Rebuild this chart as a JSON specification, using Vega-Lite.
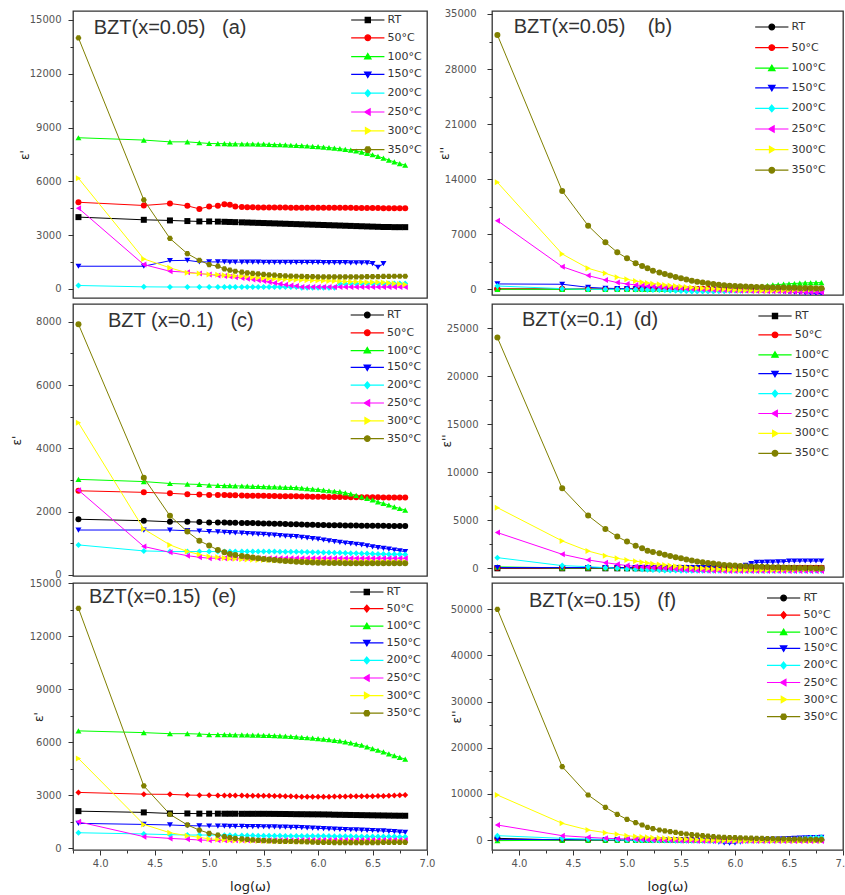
{
"$schema": "https://vega.github.io/schema/vega-lite/v6.json",
"background": "white",
"padding": {"left": 9, "top": 8, "right": 5, "bottom": 5},
"config": {
 "view": {"stroke": "#333333", "strokeWidth": 1.3},
 "axis": {"labelFont": "DejaVu Sans", "labelFontSize": 10, "labelColor": "#555555", "tickColor": "#333333", "grid": false, "domain": false, "labelOverlap": false, "labelFlush": false, "titleFont": "DejaVu Sans", "titleFontWeight": "normal", "titleFontSize": 12, "titleColor": "#222222"},
 "legend": {"orient": "none", "padding": 0, "labelFont": "DejaVu Sans", "labelFontSize": 11, "labelColor": "#333333", "symbolSize": 108, "symbolStrokeWidth": 1.2, "labelOffset": 13.8, "symbolOffset": 0},
 "title": {"font": "Liberation Sans", "fontSize": 20, "fontWeight": "normal", "color": "#333333", "anchor": "start", "baseline": "alphabetic", "offset": 0, "frame": "group"}
},
"datasets": {
"a": [
{"x":3.8,"RT":4000,"50":4830,"100":8430,"150":1260,"200":185,"250":4500,"300":6170,"350":14000},
{"x":4.4,"RT":3850,"50":4650,"100":8300,"150":1260,"200":110,"250":1350,"300":1670,"350":4960},
{"x":4.64,"RT":3815,"50":4760,"100":8200,"150":1570,"200":100,"250":980,"300":1170,"350":2810},
{"x":4.8,"RT":3780,"50":4630,"100":8200,"150":1590,"200":100,"250":925,"300":890,"350":1960},
{"x":4.91,"RT":3760,"50":4460,"100":8150,"150":1500,"200":100,"250":850,"300":850,"350":1590},
{"x":5.0,"RT":3760,"50":4590,"100":8110,"150":1500,"200":100,"250":800,"300":800,"350":1350},
{"x":5.08,"RT":3750,"50":4630,"100":8100,"150":1500,"200":100,"250":740,"300":780,"350":1260},
{"x":5.14,"RT":3740,"50":4720,"100":8100,"150":1500,"200":100,"250":720,"300":760,"350":1110},
{"x":5.19,"RT":3730,"50":4690,"100":8090,"150":1490,"200":100,"250":680,"300":740,"350":1040},
{"x":5.24,"RT":3720,"50":4590,"100":8090,"150":1490,"200":100,"250":650,"300":720,"350":980},
{"x":5.3,"RT":3710,"50":4560,"100":8080,"150":1490,"200":100,"250":600,"300":700,"350":925},
{"x":5.35,"RT":3700,"50":4550,"100":8080,"150":1490,"200":100,"250":560,"300":680,"350":890},
{"x":5.4,"RT":3690,"50":4550,"100":8080,"150":1490,"200":100,"250":520,"300":650,"350":860},
{"x":5.45,"RT":3680,"50":4540,"100":8070,"150":1490,"200":100,"250":480,"300":620,"350":830},
{"x":5.5,"RT":3670,"50":4540,"100":8070,"150":1480,"200":100,"250":430,"300":600,"350":800},
{"x":5.55,"RT":3660,"50":4540,"100":8060,"150":1480,"200":100,"250":380,"300":580,"350":780},
{"x":5.6,"RT":3650,"50":4540,"100":8050,"150":1480,"200":100,"250":320,"300":560,"350":760},
{"x":5.65,"RT":3640,"50":4540,"100":8040,"150":1480,"200":100,"250":270,"300":540,"350":740},
{"x":5.7,"RT":3630,"50":4540,"100":8030,"150":1480,"200":100,"250":220,"300":530,"350":720},
{"x":5.75,"RT":3620,"50":4530,"100":8010,"150":1480,"200":100,"250":180,"300":510,"350":710},
{"x":5.8,"RT":3610,"50":4530,"100":8000,"150":1470,"200":100,"250":150,"300":500,"350":700},
{"x":5.85,"RT":3600,"50":4530,"100":7990,"150":1470,"200":60,"250":100,"300":490,"350":690},
{"x":5.9,"RT":3590,"50":4530,"100":7970,"150":1470,"200":60,"250":100,"300":480,"350":680},
{"x":5.95,"RT":3580,"50":4530,"100":7950,"150":1470,"200":60,"250":100,"300":470,"350":675},
{"x":6.0,"RT":3570,"50":4530,"100":7930,"150":1470,"200":60,"250":100,"300":460,"350":670},
{"x":6.05,"RT":3560,"50":4520,"100":7910,"150":1460,"200":60,"250":100,"300":450,"350":670},
{"x":6.1,"RT":3550,"50":4520,"100":7880,"150":1460,"200":60,"250":100,"300":440,"350":670},
{"x":6.15,"RT":3540,"50":4520,"100":7850,"150":1460,"200":60,"250":100,"300":430,"350":670},
{"x":6.2,"RT":3530,"50":4520,"100":7820,"150":1460,"200":280,"250":100,"300":420,"350":670},
{"x":6.25,"RT":3520,"50":4520,"100":7780,"150":1460,"200":280,"250":100,"300":410,"350":670},
{"x":6.3,"RT":3510,"50":4520,"100":7740,"150":1450,"200":290,"250":100,"300":400,"350":670},
{"x":6.35,"RT":3500,"50":4510,"100":7690,"150":1450,"200":290,"250":100,"300":390,"350":670},
{"x":6.4,"RT":3490,"50":4510,"100":7630,"150":1450,"200":290,"250":100,"300":380,"350":670},
{"x":6.45,"RT":3480,"50":4510,"100":7560,"150":1450,"200":300,"250":100,"300":370,"350":675},
{"x":6.5,"RT":3470,"50":4510,"100":7480,"150":1400,"200":300,"250":100,"300":370,"350":680},
{"x":6.55,"RT":3460,"50":4510,"100":7390,"150":1200,"200":300,"250":100,"300":360,"350":680},
{"x":6.6,"RT":3450,"50":4500,"100":7290,"150":1400,"200":300,"250":100,"300":350,"350":690},
{"x":6.65,"RT":3450,"50":4500,"100":7180,"150":null,"200":300,"250":100,"300":330,"350":690},
{"x":6.7,"RT":3440,"50":4500,"100":7080,"150":null,"200":300,"250":100,"300":300,"350":700},
{"x":6.75,"RT":3440,"50":4500,"100":6990,"150":null,"200":300,"250":100,"300":270,"350":700},
{"x":6.8,"RT":3440,"50":4500,"100":6900,"150":null,"200":300,"250":100,"300":240,"350":700}
],
"b": [
{"x":3.8,"RT":30,"50":50,"100":0,"150":680,"200":420,"250":8730,"300":13600,"350":32330},
{"x":4.4,"RT":30,"50":50,"100":0,"150":640,"200":85,"250":2880,"300":4490,"350":12500},
{"x":4.64,"RT":30,"50":50,"100":0,"150":250,"200":0,"250":1740,"300":2670,"350":8090},
{"x":4.8,"RT":30,"50":50,"100":0,"150":130,"200":0,"250":1190,"300":2030,"350":5970},
{"x":4.91,"RT":30,"50":50,"100":0,"150":100,"200":0,"250":850,"300":1530,"350":4700},
{"x":5.0,"RT":30,"50":50,"100":0,"150":80,"200":0,"250":680,"300":1270,"350":3940},
{"x":5.08,"RT":30,"50":50,"100":0,"150":60,"200":-20,"250":560,"300":1050,"350":3300},
{"x":5.14,"RT":30,"50":50,"100":0,"150":50,"200":-40,"250":470,"300":900,"350":2970},
{"x":5.19,"RT":30,"50":50,"100":0,"150":40,"200":-60,"250":400,"300":800,"350":2670},
{"x":5.24,"RT":30,"50":50,"100":0,"150":30,"200":-80,"250":340,"300":720,"350":2370},
{"x":5.3,"RT":30,"50":50,"100":0,"150":20,"200":-100,"250":290,"300":640,"350":2120},
{"x":5.35,"RT":30,"50":50,"100":0,"150":10,"200":-130,"250":240,"300":560,"350":1930},
{"x":5.4,"RT":30,"50":50,"100":0,"150":0,"200":-160,"250":200,"300":490,"350":1740},
{"x":5.45,"RT":30,"50":50,"100":0,"150":-10,"200":-190,"250":160,"300":410,"350":1570},
{"x":5.5,"RT":30,"50":50,"100":0,"150":-20,"200":-220,"250":120,"300":340,"350":1400},
{"x":5.55,"RT":30,"50":50,"100":0,"150":-30,"200":-250,"250":80,"300":280,"350":1250},
{"x":5.6,"RT":30,"50":50,"100":0,"150":-40,"200":-270,"250":40,"300":220,"350":1100},
{"x":5.65,"RT":30,"50":50,"100":0,"150":-50,"200":-280,"250":0,"300":170,"350":970},
{"x":5.7,"RT":30,"50":50,"100":0,"150":-60,"200":-290,"250":-30,"300":130,"350":850},
{"x":5.75,"RT":30,"50":50,"100":0,"150":-70,"200":-290,"250":-60,"300":100,"350":760},
{"x":5.8,"RT":30,"50":50,"100":0,"150":-80,"200":-280,"250":-90,"300":80,"350":680},
{"x":5.85,"RT":30,"50":50,"100":0,"150":-90,"200":-260,"250":-110,"300":40,"350":590},
{"x":5.9,"RT":30,"50":50,"100":0,"150":-100,"200":-240,"250":-130,"300":0,"350":510},
{"x":5.95,"RT":30,"50":50,"100":0,"150":-110,"200":-220,"250":-150,"300":-40,"350":460},
{"x":6.0,"RT":30,"50":50,"100":0,"150":-120,"200":-200,"250":-170,"300":-80,"350":420},
{"x":6.05,"RT":30,"50":50,"100":50,"150":-130,"200":-180,"250":-190,"300":-110,"350":390},
{"x":6.1,"RT":30,"50":50,"100":100,"150":-140,"200":-160,"250":-200,"300":-130,"350":360},
{"x":6.15,"RT":30,"50":50,"100":180,"150":-150,"200":-140,"250":-210,"300":-150,"350":330},
{"x":6.2,"RT":30,"50":50,"100":300,"150":-160,"200":-120,"250":-220,"300":-160,"350":300},
{"x":6.25,"RT":30,"50":50,"100":400,"150":-180,"200":-100,"250":-230,"300":-170,"350":280},
{"x":6.3,"RT":30,"50":50,"100":480,"150":-200,"200":-80,"250":-240,"300":-170,"350":260},
{"x":6.35,"RT":30,"50":50,"100":550,"150":-220,"200":-60,"250":-250,"300":-160,"350":240},
{"x":6.4,"RT":30,"50":50,"100":600,"150":-250,"200":-40,"250":-260,"300":-150,"350":230},
{"x":6.45,"RT":30,"50":50,"100":650,"150":-280,"200":-20,"250":-280,"300":-130,"350":220},
{"x":6.5,"RT":30,"50":50,"100":700,"150":-320,"200":0,"250":-300,"300":-110,"350":210},
{"x":6.55,"RT":30,"50":50,"100":740,"150":-360,"200":0,"250":-320,"300":-90,"350":190},
{"x":6.6,"RT":30,"50":50,"100":780,"150":-400,"200":0,"250":-340,"300":-70,"350":170},
{"x":6.65,"RT":30,"50":50,"100":810,"150":-440,"200":0,"250":-360,"300":-50,"350":160},
{"x":6.7,"RT":30,"50":50,"100":830,"150":-480,"200":0,"250":-380,"300":-30,"350":150},
{"x":6.75,"RT":30,"50":50,"100":840,"150":-520,"200":0,"250":-400,"300":-10,"350":140},
{"x":6.8,"RT":30,"50":50,"100":850,"150":-560,"200":0,"250":-420,"300":0,"350":130}
],
"c": [
{"x":3.8,"RT":1760,"50":2660,"100":3020,"150":1420,"200":950,"250":2680,"300":4810,"350":7920},
{"x":4.4,"RT":1715,"50":2610,"100":2950,"150":1420,"200":760,"250":900,"300":1450,"350":3070},
{"x":4.64,"RT":1680,"50":2580,"100":2890,"150":1420,"200":740,"250":715,"300":950,"350":1870},
{"x":4.8,"RT":1680,"50":2550,"100":2870,"150":1400,"200":740,"250":610,"300":740,"350":1370},
{"x":4.91,"RT":1670,"50":2540,"100":2860,"150":1390,"200":740,"250":560,"300":650,"350":1080},
{"x":5.0,"RT":1660,"50":2530,"100":2840,"150":1370,"200":740,"250":530,"300":580,"350":930},
{"x":5.08,"RT":1660,"50":2530,"100":2830,"150":1360,"200":740,"250":530,"300":560,"350":790},
{"x":5.14,"RT":1655,"50":2525,"100":2825,"150":1350,"200":740,"250":530,"300":540,"350":715},
{"x":5.19,"RT":1650,"50":2520,"100":2820,"150":1340,"200":740,"250":530,"300":520,"350":660},
{"x":5.24,"RT":1650,"50":2515,"100":2815,"150":1330,"200":740,"250":530,"300":510,"350":630},
{"x":5.3,"RT":1645,"50":2510,"100":2810,"150":1320,"200":740,"250":530,"300":500,"350":600},
{"x":5.35,"RT":1640,"50":2505,"100":2805,"150":1310,"200":740,"250":530,"300":490,"350":575},
{"x":5.4,"RT":1640,"50":2505,"100":2800,"150":1300,"200":740,"250":530,"300":480,"350":550},
{"x":5.45,"RT":1635,"50":2500,"100":2795,"150":1290,"200":740,"250":530,"300":475,"350":525},
{"x":5.5,"RT":1630,"50":2500,"100":2790,"150":1280,"200":740,"250":530,"300":470,"350":505},
{"x":5.55,"RT":1625,"50":2495,"100":2785,"150":1270,"200":740,"250":530,"300":465,"350":490},
{"x":5.6,"RT":1620,"50":2495,"100":2780,"150":1260,"200":740,"250":530,"300":460,"350":475},
{"x":5.65,"RT":1615,"50":2490,"100":2775,"150":1245,"200":735,"250":530,"300":455,"350":460},
{"x":5.7,"RT":1610,"50":2490,"100":2770,"150":1230,"200":735,"250":530,"300":450,"350":445},
{"x":5.75,"RT":1605,"50":2485,"100":2765,"150":1220,"200":730,"250":530,"300":448,"350":430},
{"x":5.8,"RT":1600,"50":2485,"100":2760,"150":1210,"200":730,"250":530,"300":445,"350":420},
{"x":5.85,"RT":1595,"50":2480,"100":2745,"150":1190,"200":725,"250":530,"300":443,"350":410},
{"x":5.9,"RT":1590,"50":2480,"100":2730,"150":1170,"200":725,"250":530,"300":442,"350":400},
{"x":5.95,"RT":1585,"50":2475,"100":2715,"150":1150,"200":720,"250":530,"300":441,"350":395},
{"x":6.0,"RT":1580,"50":2470,"100":2700,"150":1130,"200":715,"250":530,"300":440,"350":390},
{"x":6.05,"RT":1575,"50":2470,"100":2680,"150":1105,"200":712,"250":530,"300":438,"350":385},
{"x":6.1,"RT":1572,"50":2465,"100":2660,"150":1080,"200":710,"250":530,"300":436,"350":380},
{"x":6.15,"RT":1570,"50":2465,"100":2645,"150":1055,"200":705,"250":530,"300":434,"350":378},
{"x":6.2,"RT":1568,"50":2460,"100":2630,"150":1030,"200":700,"250":530,"300":432,"350":375},
{"x":6.25,"RT":1565,"50":2460,"100":2595,"150":1010,"200":695,"250":530,"300":430,"350":373},
{"x":6.3,"RT":1562,"50":2458,"100":2560,"150":990,"200":690,"250":530,"300":428,"350":372},
{"x":6.35,"RT":1560,"50":2456,"100":2515,"150":970,"200":685,"250":530,"300":426,"350":371},
{"x":6.4,"RT":1558,"50":2455,"100":2470,"150":950,"200":680,"250":530,"300":425,"350":370},
{"x":6.45,"RT":1556,"50":2454,"100":2420,"150":920,"200":675,"250":530,"300":424,"350":370},
{"x":6.5,"RT":1555,"50":2453,"100":2370,"150":890,"200":670,"250":530,"300":423,"350":370},
{"x":6.55,"RT":1553,"50":2452,"100":2310,"150":865,"200":665,"250":530,"300":422,"350":370},
{"x":6.6,"RT":1552,"50":2451,"100":2260,"150":840,"200":660,"250":530,"300":421,"350":370},
{"x":6.65,"RT":1551,"50":2450,"100":2210,"150":815,"200":657,"250":530,"300":420,"350":370},
{"x":6.7,"RT":1550,"50":2450,"100":2150,"150":790,"200":655,"250":530,"300":420,"350":370},
{"x":6.75,"RT":1550,"50":2450,"100":2100,"150":765,"200":652,"250":530,"300":420,"350":370},
{"x":6.8,"RT":1550,"50":2450,"100":2050,"150":740,"200":650,"250":530,"300":420,"350":370}
],
"d": [
{"x":3.8,"RT":0,"50":50,"100":150,"150":80,"200":1110,"250":3720,"300":6320,"350":24030},
{"x":4.4,"RT":0,"50":50,"100":50,"150":80,"200":280,"250":1460,"300":2850,"350":8330},
{"x":4.64,"RT":0,"50":50,"100":50,"150":80,"200":170,"250":870,"300":1800,"350":5490},
{"x":4.8,"RT":0,"50":50,"100":50,"150":80,"200":70,"250":590,"300":1320,"350":4100},
{"x":4.91,"RT":0,"50":50,"100":50,"150":80,"200":0,"250":420,"300":1040,"350":3300},
{"x":5.0,"RT":0,"50":50,"100":50,"150":80,"200":-70,"250":280,"300":870,"350":2780},
{"x":5.08,"RT":0,"50":50,"100":50,"150":80,"200":-100,"250":200,"300":740,"350":2360},
{"x":5.14,"RT":0,"50":50,"100":50,"150":80,"200":-130,"250":140,"300":640,"350":2080},
{"x":5.19,"RT":0,"50":50,"100":50,"150":80,"200":-150,"250":100,"300":560,"350":1840},
{"x":5.24,"RT":0,"50":50,"100":50,"150":80,"200":-170,"250":60,"300":480,"350":1700},
{"x":5.3,"RT":0,"50":50,"100":50,"150":80,"200":-210,"250":20,"300":400,"350":1560},
{"x":5.35,"RT":0,"50":50,"100":50,"150":80,"200":-220,"250":-10,"300":340,"350":1420},
{"x":5.4,"RT":0,"50":50,"100":50,"150":80,"200":-230,"250":-40,"300":280,"350":1280},
{"x":5.45,"RT":0,"50":50,"100":50,"150":80,"200":-240,"250":-90,"300":220,"350":1160},
{"x":5.5,"RT":0,"50":50,"100":50,"150":80,"200":-250,"250":-140,"300":170,"350":1040},
{"x":5.55,"RT":0,"50":50,"100":50,"150":80,"200":-250,"250":-170,"300":120,"350":920},
{"x":5.6,"RT":0,"50":50,"100":50,"150":80,"200":-250,"250":-200,"300":70,"350":800},
{"x":5.65,"RT":0,"50":50,"100":50,"150":80,"200":-250,"250":-220,"300":30,"350":710},
{"x":5.7,"RT":0,"50":50,"100":50,"150":80,"200":-250,"250":-240,"300":0,"350":625},
{"x":5.75,"RT":0,"50":50,"100":50,"150":80,"200":-250,"250":-250,"300":-40,"350":560},
{"x":5.8,"RT":0,"50":50,"100":50,"150":80,"200":-250,"250":-260,"300":-70,"350":490},
{"x":5.85,"RT":0,"50":50,"100":50,"150":80,"200":-250,"250":-265,"300":-100,"350":420},
{"x":5.9,"RT":0,"50":50,"100":50,"150":80,"200":-250,"250":-270,"300":-130,"350":350},
{"x":5.95,"RT":0,"50":50,"100":50,"150":80,"200":-250,"250":-275,"300":-150,"350":310},
{"x":6.0,"RT":0,"50":50,"100":50,"150":80,"200":-250,"250":-280,"300":-170,"350":280},
{"x":6.05,"RT":0,"50":50,"100":50,"150":150,"200":-250,"250":-280,"300":-175,"350":250},
{"x":6.1,"RT":0,"50":50,"100":50,"150":300,"200":-250,"250":-280,"300":-175,"350":220},
{"x":6.15,"RT":0,"50":50,"100":50,"150":500,"200":-250,"250":-280,"300":-175,"350":195},
{"x":6.2,"RT":0,"50":50,"100":50,"150":620,"200":-250,"250":-280,"300":-175,"350":170},
{"x":6.25,"RT":0,"50":50,"100":50,"150":630,"200":-250,"250":-280,"300":-175,"350":150},
{"x":6.3,"RT":0,"50":50,"100":50,"150":640,"200":-250,"250":-280,"300":-175,"350":130},
{"x":6.35,"RT":0,"50":50,"100":50,"150":650,"200":-250,"250":-280,"300":-170,"350":115},
{"x":6.4,"RT":0,"50":50,"100":50,"150":660,"200":-250,"250":-280,"300":-165,"350":100},
{"x":6.45,"RT":0,"50":50,"100":50,"150":680,"200":-250,"250":-280,"300":-160,"350":85},
{"x":6.5,"RT":0,"50":50,"100":50,"150":750,"200":-250,"250":-280,"300":-150,"350":70},
{"x":6.55,"RT":0,"50":50,"100":50,"150":750,"200":-250,"250":-280,"300":-140,"350":55},
{"x":6.6,"RT":0,"50":50,"100":50,"150":760,"200":-250,"250":-280,"300":-130,"350":40},
{"x":6.65,"RT":0,"50":50,"100":50,"150":760,"200":-250,"250":-280,"300":-120,"350":30},
{"x":6.7,"RT":0,"50":50,"100":50,"150":760,"200":-250,"250":-280,"300":-110,"350":20},
{"x":6.75,"RT":0,"50":50,"100":50,"150":760,"200":-250,"250":-280,"300":-100,"350":10},
{"x":6.8,"RT":0,"50":50,"100":50,"150":760,"200":-250,"250":-280,"300":-90,"350":0}
],
"e": [
{"x":3.8,"RT":2100,"50":3160,"100":6640,"150":1410,"200":880,"250":1500,"300":5080,"350":13570},
{"x":4.4,"RT":2030,"50":3060,"100":6540,"150":1350,"200":810,"250":660,"300":1350,"350":3530},
{"x":4.64,"RT":1970,"50":3050,"100":6480,"150":1320,"200":770,"250":560,"300":880,"350":1920},
{"x":4.8,"RT":1970,"50":3010,"100":6480,"150":1280,"200":750,"250":510,"300":710,"350":1320},
{"x":4.91,"RT":1960,"50":3000,"100":6460,"150":1270,"200":750,"250":470,"300":620,"350":1030},
{"x":5.0,"RT":1960,"50":3000,"100":6430,"150":1260,"200":750,"250":450,"300":530,"350":850},
{"x":5.08,"RT":1960,"50":2990,"100":6430,"150":1255,"200":745,"250":450,"300":500,"350":750},
{"x":5.14,"RT":1955,"50":2990,"100":6425,"150":1250,"200":740,"250":450,"300":480,"350":660},
{"x":5.19,"RT":1955,"50":2985,"100":6420,"150":1245,"200":735,"250":450,"300":460,"350":600},
{"x":5.24,"RT":1955,"50":2980,"100":6415,"150":1240,"200":730,"250":450,"300":445,"350":560},
{"x":5.3,"RT":1950,"50":2980,"100":6410,"150":1235,"200":725,"250":455,"300":430,"350":530},
{"x":5.35,"RT":1950,"50":2975,"100":6405,"150":1230,"200":720,"250":455,"300":425,"350":500},
{"x":5.4,"RT":1950,"50":2975,"100":6400,"150":1228,"200":718,"250":455,"300":420,"350":475},
{"x":5.45,"RT":1950,"50":2970,"100":6395,"150":1225,"200":714,"250":460,"300":415,"350":450},
{"x":5.5,"RT":1950,"50":2970,"100":6390,"150":1220,"200":710,"250":460,"300":410,"350":430},
{"x":5.55,"RT":1948,"50":2965,"100":6380,"150":1215,"200":708,"250":460,"300":405,"350":415},
{"x":5.6,"RT":1945,"50":2960,"100":6370,"150":1210,"200":706,"250":460,"300":400,"350":405},
{"x":5.65,"RT":1942,"50":2955,"100":6355,"150":1200,"200":704,"250":460,"300":395,"350":395},
{"x":5.7,"RT":1940,"50":2950,"100":6340,"150":1195,"200":702,"250":460,"300":390,"350":390},
{"x":5.75,"RT":1935,"50":2940,"100":6320,"150":1188,"200":701,"250":460,"300":385,"350":385},
{"x":5.8,"RT":1930,"50":2930,"100":6300,"150":1180,"200":700,"250":460,"300":382,"350":380},
{"x":5.85,"RT":1928,"50":2920,"100":6275,"150":1168,"200":700,"250":465,"300":381,"350":370},
{"x":5.9,"RT":1925,"50":2915,"100":6250,"150":1155,"200":700,"250":465,"300":380,"350":360},
{"x":5.95,"RT":1922,"50":2910,"100":6225,"150":1143,"200":700,"250":465,"300":380,"350":350},
{"x":6.0,"RT":1920,"50":2910,"100":6200,"150":1130,"200":700,"250":465,"300":380,"350":340},
{"x":6.05,"RT":1915,"50":2915,"100":6170,"150":1115,"200":695,"250":465,"300":380,"350":335},
{"x":6.1,"RT":1910,"50":2920,"100":6140,"150":1100,"200":690,"250":465,"300":380,"350":330},
{"x":6.15,"RT":1900,"50":2925,"100":6105,"150":1085,"200":685,"250":465,"300":380,"350":325},
{"x":6.2,"RT":1895,"50":2930,"100":6070,"150":1070,"200":680,"250":465,"300":380,"350":322},
{"x":6.25,"RT":1890,"50":2935,"100":6015,"150":1060,"200":678,"250":470,"300":380,"350":320},
{"x":6.3,"RT":1885,"50":2940,"100":5960,"150":1050,"200":676,"250":470,"300":380,"350":320},
{"x":6.35,"RT":1880,"50":2945,"100":5895,"150":1040,"200":674,"250":470,"300":380,"350":320},
{"x":6.4,"RT":1875,"50":2950,"100":5830,"150":1030,"200":672,"250":470,"300":380,"350":320},
{"x":6.45,"RT":1870,"50":2950,"100":5740,"150":1017,"200":670,"250":470,"300":380,"350":320},
{"x":6.5,"RT":1865,"50":2950,"100":5640,"150":1005,"200":668,"250":470,"300":380,"350":320},
{"x":6.55,"RT":1860,"50":2955,"100":5545,"150":993,"200":666,"250":470,"300":380,"350":325},
{"x":6.6,"RT":1855,"50":2960,"100":5450,"150":980,"200":664,"250":470,"300":380,"350":330},
{"x":6.65,"RT":1850,"50":2970,"100":5340,"150":960,"200":662,"250":470,"300":380,"350":335},
{"x":6.7,"RT":1845,"50":2980,"100":5240,"150":940,"200":661,"250":470,"300":380,"350":340},
{"x":6.75,"RT":1842,"50":2995,"100":5140,"150":920,"200":660,"250":470,"300":380,"350":340},
{"x":6.8,"RT":1840,"50":3010,"100":5040,"150":900,"200":660,"250":470,"300":380,"350":340}
],
"f": [
{"x":3.8,"RT":360,"50":0,"100":-140,"150":140,"200":940,"250":3250,"300":9750,"350":50000},
{"x":4.4,"RT":0,"50":0,"100":-50,"150":70,"200":360,"250":940,"300":3610,"350":15900},
{"x":4.64,"RT":0,"50":0,"100":-50,"150":50,"200":220,"250":580,"300":2170,"350":9750},
{"x":4.8,"RT":0,"50":0,"100":-50,"150":40,"200":140,"250":360,"300":1590,"350":7080},
{"x":4.91,"RT":0,"50":0,"100":-50,"150":30,"200":70,"250":290,"300":1230,"350":5560},
{"x":5.0,"RT":0,"50":0,"100":-50,"150":20,"200":0,"250":220,"300":940,"350":4480},
{"x":5.08,"RT":0,"50":0,"100":-50,"150":10,"200":-30,"250":150,"300":750,"350":3760},
{"x":5.14,"RT":0,"50":0,"100":-50,"150":0,"200":-60,"250":90,"300":650,"350":3250},
{"x":5.19,"RT":0,"50":0,"100":-50,"150":-10,"200":-80,"250":40,"300":580,"350":2750},
{"x":5.24,"RT":0,"50":0,"100":-50,"150":-20,"200":-100,"250":10,"300":500,"350":2450},
{"x":5.3,"RT":0,"50":0,"100":-50,"150":-30,"200":-110,"250":-20,"300":430,"350":2170},
{"x":5.35,"RT":0,"50":0,"100":-50,"150":-40,"200":-120,"250":-50,"300":370,"350":1990},
{"x":5.4,"RT":0,"50":0,"100":-50,"150":-50,"200":-130,"250":-80,"300":320,"350":1810},
{"x":5.45,"RT":0,"50":0,"100":-50,"150":-60,"200":-140,"250":-110,"300":270,"350":1630},
{"x":5.5,"RT":0,"50":0,"100":-50,"150":-70,"200":-140,"250":-140,"300":220,"350":1450},
{"x":5.55,"RT":0,"50":0,"100":-50,"150":-80,"200":-140,"250":-160,"300":170,"350":1300},
{"x":5.6,"RT":0,"50":0,"100":-50,"150":-100,"200":-140,"250":-180,"300":120,"350":1160},
{"x":5.65,"RT":0,"50":0,"100":-50,"150":-120,"200":-140,"250":-190,"300":70,"350":1050},
{"x":5.7,"RT":0,"50":0,"100":-50,"150":-150,"200":-140,"250":-200,"300":30,"350":940},
{"x":5.75,"RT":0,"50":0,"100":-50,"150":-200,"200":-140,"250":-205,"300":0,"350":830},
{"x":5.8,"RT":0,"50":0,"100":-50,"150":-300,"200":-140,"250":-210,"300":-70,"350":720},
{"x":5.85,"RT":0,"50":0,"100":-50,"150":-450,"200":-140,"250":-215,"300":-100,"350":650},
{"x":5.9,"RT":0,"50":0,"100":-50,"150":-650,"200":-140,"250":-220,"300":-120,"350":580},
{"x":5.95,"RT":0,"50":0,"100":-50,"150":-700,"200":-140,"250":-220,"300":-130,"350":545},
{"x":6.0,"RT":0,"50":0,"100":-50,"150":-650,"200":-140,"250":-220,"300":-140,"350":510},
{"x":6.05,"RT":0,"50":0,"100":-50,"150":-450,"200":-140,"250":-220,"300":-140,"350":470},
{"x":6.1,"RT":0,"50":0,"100":-50,"150":-250,"200":-140,"250":-220,"300":-140,"350":435},
{"x":6.15,"RT":0,"50":0,"100":-50,"150":-100,"200":-140,"250":-220,"300":-140,"350":400},
{"x":6.2,"RT":0,"50":0,"100":-50,"150":0,"200":-140,"250":-220,"300":-140,"350":360},
{"x":6.25,"RT":0,"50":0,"100":-50,"150":50,"200":-130,"250":-220,"300":-140,"350":335},
{"x":6.3,"RT":0,"50":0,"100":-50,"150":100,"200":-120,"250":-220,"300":-140,"350":310},
{"x":6.35,"RT":0,"50":0,"100":-50,"150":150,"200":-100,"250":-220,"300":-140,"350":285},
{"x":6.4,"RT":0,"50":0,"100":-50,"150":200,"200":-80,"250":-220,"300":-140,"350":265},
{"x":6.45,"RT":0,"50":0,"100":-50,"150":250,"200":-40,"250":-220,"300":-140,"350":240},
{"x":6.5,"RT":0,"50":0,"100":-50,"150":300,"200":0,"250":-220,"300":-140,"350":220},
{"x":6.55,"RT":0,"50":0,"100":-50,"150":350,"200":100,"250":-220,"300":-140,"350":200},
{"x":6.6,"RT":0,"50":0,"100":-50,"150":400,"200":250,"250":-220,"300":-140,"350":185},
{"x":6.65,"RT":0,"50":0,"100":-50,"150":450,"200":400,"250":-220,"300":-140,"350":170},
{"x":6.7,"RT":0,"50":0,"100":-50,"150":500,"200":500,"250":-220,"300":-140,"350":160},
{"x":6.75,"RT":0,"50":0,"100":-50,"150":540,"200":540,"250":-220,"300":-140,"350":150},
{"x":6.8,"RT":0,"50":0,"100":-50,"150":580,"200":580,"250":-220,"300":-140,"350":140}
]
},
"columns": 2,
"spacing": {"row": 6, "column": 65},
"bounds": "flush",
"resolve": {"scale": {"fill": "independent", "stroke": "independent", "shape": "independent", "color": "independent"}},
"concat": [
{
 "width": 354, "height": 287,
 "data": {"name": "a"},
 "transform": [{"fold": ["RT","50","100","150","200","250","300","350"], "as": ["s","y"]}],
 "title": {"text": "BZT(x=0.05)\u00a0\u00a0\u00a0(a)", "dx": 20.7, "dy": 31},
 "encoding": {"x": {"field": "x", "type": "quantitative", "scale": {"domain": [3.75, 7.0], "nice": false, "zero": false}, "axis": null}},
 "layer": [
  {"mark": {"type": "line", "strokeWidth": 1, "clip": true},
   "encoding": {"y": {"field": "y", "type": "quantitative", "scale": {"domain": [-513, 15502], "nice": false, "zero": false},
    "axis": {"orient": "left", "title": "ε'", "titleX": -49, "titleBaseline": "middle", "values": [0,3000,6000,9000,12000,15000], "format": "d", "tickSize": 5, "labelPadding": 7}},
    "stroke": {"field": "s", "type": "nominal", "scale": {"domain": ["RT","50","100","150","200","250","300","350"], "range": ["#000000","#ff0000","#00ff00","#0000ff","#00ffff","#ff00ff","#ffff00","#808000"]}, "legend": null}}},
  {"mark": {"type": "point", "filled": true, "size": 36, "opacity": 1, "clip": true},
   "encoding": {"y": {"field": "y", "type": "quantitative", "scale": {"domain": [-513, 15502], "nice": false, "zero": false},
    "axis": {"orient": "left", "title": null, "values": [1500,4500,7500,10500,13500], "labels": false, "tickSize": 3}},
    "fill": {"field": "s", "type": "nominal", "scale": {"domain": ["RT","50","100","150","200","250","300","350"], "range": ["#000000","#ff0000","#00ff00","#0000ff","#00ffff","#ff00ff","#ffff00","#808000"]}, "legend": null},
    "shape": {"field": "s", "type": "nominal", "scale": {"domain": ["RT","50","100","150","200","250","300","350"], "range": ["square","circle","triangle-up","triangle-down","diamond","triangle-left","triangle-right","M-1,0L-0.5,-0.87H0.5L1,0L0.5,0.87H-0.5Z"]}, "legend": null}}},
  {"transform": [{"filter": "false"}],
   "mark": {"type": "point", "filled": true, "opacity": 1},
   "encoding": {"y": {"field": "y", "type": "quantitative", "scale": {"domain": [-513, 15502], "nice": false, "zero": false}, "axis": null},
    "fill": {"field": "s", "type": "nominal", "scale": {"domain": ["RT","50","100","150","200","250","300","350"], "range": ["#000000","#ff0000","#00ff00","#0000ff","#00ffff","#ff00ff","#ffff00","#808000"]}, "legend": {"title": null, "legendX": 288.8, "legendY": 3, "rowPadding": 6.8, "labelExpr": "datum.label=='RT'?'RT':datum.label+'°C'"}},
    "stroke": {"field": "s", "type": "nominal", "scale": {"domain": ["RT","50","100","150","200","250","300","350"], "range": ["#000000","#ff0000","#00ff00","#0000ff","#00ffff","#ff00ff","#ffff00","#808000"]}, "legend": {"title": null, "legendX": 288.8, "legendY": 3, "rowPadding": 6.8, "labelExpr": "datum.label=='RT'?'RT':datum.label+'°C'"}},
    "shape": {"field": "s", "type": "nominal", "scale": {"domain": ["RT","50","100","150","200","250","300","350"], "range": ["M-3.2,0H3.2M-0.5,-0.5H0.5V0.5H-0.5Z","M-3.2,0H3.2M-0.55,0A0.55,0.55,0,1,1,0.55,0A0.55,0.55,0,1,1,-0.55,0Z","M-3.2,0H3.2M0,-0.6L0.62,0.45H-0.62Z","M-3.2,0H3.2M0,0.6L0.62,-0.45H-0.62Z","M-3.2,0H3.2M0,-0.65L0.55,0L0,0.65L-0.55,0Z","M-3.2,0H3.2M-0.6,0L0.45,-0.62V0.62Z","M-3.2,0H3.2M0.6,0L-0.45,-0.62V0.62Z","M-3.2,0H3.2M-0.6,0L-0.3,-0.52H0.3L0.6,0L0.3,0.52H-0.3Z"]}, "legend": {"title": null, "legendX": 288.8, "legendY": 3, "rowPadding": 6.8, "labelExpr": "datum.label=='RT'?'RT':datum.label+'°C'"}}}}
 ],
 "resolve": {"scale": {"fill": "independent", "stroke": "independent", "shape": "independent"}, "axis": {"y": "independent"}}
},
{
 "width": 351, "height": 284,
 "data": {"name": "b"},
 "transform": [{"fold": ["RT","50","100","150","200","250","300","350"], "as": ["s","y"]}],
 "title": {"text": "BZT(x=0.05)\u00a0\u00a0\u00a0\u00a0(b)", "dx": 21.7, "dy": 32.3},
 "encoding": {"x": {"field": "x", "type": "quantitative", "scale": {"domain": [3.75, 7.0], "nice": false, "zero": false}, "axis": null}},
 "layer": [
  {"mark": {"type": "line", "strokeWidth": 1, "clip": true},
   "encoding": {"y": {"field": "y", "type": "quantitative", "scale": {"domain": [-725, 35381], "nice": false, "zero": false},
    "axis": {"orient": "left", "title": "ε''", "titleX": -48, "titleBaseline": "middle", "values": [0,7000,14000,21000,28000,35000], "format": "d", "tickSize": 5, "labelPadding": 11}},
    "stroke": {"field": "s", "type": "nominal", "scale": {"domain": ["RT","50","100","150","200","250","300","350"], "range": ["#000000","#ff0000","#00ff00","#0000ff","#00ffff","#ff00ff","#ffff00","#808000"]}, "legend": null}}},
  {"mark": {"type": "point", "filled": true, "size": 36, "opacity": 1, "clip": true},
   "encoding": {"y": {"field": "y", "type": "quantitative", "scale": {"domain": [-725, 35381], "nice": false, "zero": false},
    "axis": {"orient": "left", "title": null, "values": [3500,10500,17500,24500,31500], "labels": false, "tickSize": 3}},
    "fill": {"field": "s", "type": "nominal", "scale": {"domain": ["RT","50","100","150","200","250","300","350"], "range": ["#000000","#ff0000","#00ff00","#0000ff","#00ffff","#ff00ff","#ffff00","#808000"]}, "legend": null},
    "shape": {"field": "s", "type": "nominal", "scale": {"domain": ["RT","50","100","150","200","250","300","350"], "range": ["circle","circle","triangle-up","triangle-down","diamond","triangle-left","triangle-right","circle"]}, "legend": null}}},
  {"transform": [{"filter": "false"}],
   "mark": {"type": "point", "filled": true, "opacity": 1},
   "encoding": {"y": {"field": "y", "type": "quantitative", "scale": {"domain": [-725, 35381], "nice": false, "zero": false}, "axis": null},
    "fill": {"field": "s", "type": "nominal", "scale": {"domain": ["RT","50","100","150","200","250","300","350"], "range": ["#000000","#ff0000","#00ff00","#0000ff","#00ffff","#ff00ff","#ffff00","#808000"]}, "legend": {"title": null, "legendX": 273.8, "legendY": 10, "rowPadding": 8.6, "labelExpr": "datum.label=='RT'?'RT':datum.label+'°C'"}},
    "stroke": {"field": "s", "type": "nominal", "scale": {"domain": ["RT","50","100","150","200","250","300","350"], "range": ["#000000","#ff0000","#00ff00","#0000ff","#00ffff","#ff00ff","#ffff00","#808000"]}, "legend": {"title": null, "legendX": 273.8, "legendY": 10, "rowPadding": 8.6, "labelExpr": "datum.label=='RT'?'RT':datum.label+'°C'"}},
    "shape": {"field": "s", "type": "nominal", "scale": {"domain": ["RT","50","100","150","200","250","300","350"], "range": ["M-3.2,0H3.2M-0.55,0A0.55,0.55,0,1,1,0.55,0A0.55,0.55,0,1,1,-0.55,0Z","M-3.2,0H3.2M-0.55,0A0.55,0.55,0,1,1,0.55,0A0.55,0.55,0,1,1,-0.55,0Z","M-3.2,0H3.2M0,-0.6L0.62,0.45H-0.62Z","M-3.2,0H3.2M0,0.6L0.62,-0.45H-0.62Z","M-3.2,0H3.2M0,-0.65L0.55,0L0,0.65L-0.55,0Z","M-3.2,0H3.2M-0.6,0L0.45,-0.62V0.62Z","M-3.2,0H3.2M0.6,0L-0.45,-0.62V0.62Z","M-3.2,0H3.2M-0.55,0A0.55,0.55,0,1,1,0.55,0A0.55,0.55,0,1,1,-0.55,0Z"]}, "legend": {"title": null, "legendX": 273.8, "legendY": 10, "rowPadding": 8.6, "labelExpr": "datum.label=='RT'?'RT':datum.label+'°C'"}}}}
 ],
 "resolve": {"scale": {"fill": "independent", "stroke": "independent", "shape": "independent"}, "axis": {"y": "independent"}}
},
{
 "width": 354, "height": 272,
 "data": {"name": "c"},
 "transform": [{"fold": ["RT","50","100","150","200","250","300","350"], "as": ["s","y"]}],
 "title": {"text": "BZT (x=0.1)\u00a0\u00a0\u00a0(c)", "dx": 35, "dy": 31.3},
 "encoding": {"x": {"field": "x", "type": "quantitative", "scale": {"domain": [3.75, 7.0], "nice": false, "zero": false}, "axis": null}},
 "layer": [
  {"mark": {"type": "line", "strokeWidth": 1, "clip": true},
   "encoding": {"y": {"field": "y", "type": "quantitative", "scale": {"domain": [-32, 8559], "nice": false, "zero": false},
    "axis": {"orient": "left", "title": "ε'", "titleX": -57, "titleBaseline": "middle", "values": [0,2000,4000,6000,8000], "format": "d", "tickSize": 5, "labelPadding": 7}},
    "stroke": {"field": "s", "type": "nominal", "scale": {"domain": ["RT","50","100","150","200","250","300","350"], "range": ["#000000","#ff0000","#00ff00","#0000ff","#00ffff","#ff00ff","#ffff00","#808000"]}, "legend": null}}},
  {"mark": {"type": "point", "filled": true, "size": 36, "opacity": 1, "clip": true},
   "encoding": {"y": {"field": "y", "type": "quantitative", "scale": {"domain": [-32, 8559], "nice": false, "zero": false},
    "axis": {"orient": "left", "title": null, "values": [1000,3000,5000,7000], "labels": false, "tickSize": 3}},
    "fill": {"field": "s", "type": "nominal", "scale": {"domain": ["RT","50","100","150","200","250","300","350"], "range": ["#000000","#ff0000","#00ff00","#0000ff","#00ffff","#ff00ff","#ffff00","#808000"]}, "legend": null},
    "shape": {"field": "s", "type": "nominal", "scale": {"domain": ["RT","50","100","150","200","250","300","350"], "range": ["circle","circle","triangle-up","triangle-down","diamond","triangle-left","triangle-right","circle"]}, "legend": null}}},
  {"transform": [{"filter": "false"}],
   "mark": {"type": "point", "filled": true, "opacity": 1},
   "encoding": {"y": {"field": "y", "type": "quantitative", "scale": {"domain": [-32, 8559], "nice": false, "zero": false}, "axis": null},
    "fill": {"field": "s", "type": "nominal", "scale": {"domain": ["RT","50","100","150","200","250","300","350"], "range": ["#000000","#ff0000","#00ff00","#0000ff","#00ffff","#ff00ff","#ffff00","#808000"]}, "legend": {"title": null, "legendX": 288.3, "legendY": 5, "rowPadding": 5.8, "labelExpr": "datum.label=='RT'?'RT':datum.label+'°C'"}},
    "stroke": {"field": "s", "type": "nominal", "scale": {"domain": ["RT","50","100","150","200","250","300","350"], "range": ["#000000","#ff0000","#00ff00","#0000ff","#00ffff","#ff00ff","#ffff00","#808000"]}, "legend": {"title": null, "legendX": 288.3, "legendY": 5, "rowPadding": 5.8, "labelExpr": "datum.label=='RT'?'RT':datum.label+'°C'"}},
    "shape": {"field": "s", "type": "nominal", "scale": {"domain": ["RT","50","100","150","200","250","300","350"], "range": ["M-3.2,0H3.2M-0.55,0A0.55,0.55,0,1,1,0.55,0A0.55,0.55,0,1,1,-0.55,0Z","M-3.2,0H3.2M-0.55,0A0.55,0.55,0,1,1,0.55,0A0.55,0.55,0,1,1,-0.55,0Z","M-3.2,0H3.2M0,-0.6L0.62,0.45H-0.62Z","M-3.2,0H3.2M0,0.6L0.62,-0.45H-0.62Z","M-3.2,0H3.2M0,-0.65L0.55,0L0,0.65L-0.55,0Z","M-3.2,0H3.2M-0.6,0L0.45,-0.62V0.62Z","M-3.2,0H3.2M0.6,0L-0.45,-0.62V0.62Z","M-3.2,0H3.2M-0.55,0A0.55,0.55,0,1,1,0.55,0A0.55,0.55,0,1,1,-0.55,0Z"]}, "legend": {"title": null, "legendX": 288.3, "legendY": 5, "rowPadding": 5.8, "labelExpr": "datum.label=='RT'?'RT':datum.label+'°C'"}}}}
 ],
 "resolve": {"scale": {"fill": "independent", "stroke": "independent", "shape": "independent"}, "axis": {"y": "independent"}}
},
{
 "width": 351, "height": 273,
 "data": {"name": "d"},
 "transform": [{"fold": ["RT","50","100","150","200","250","300","350"], "as": ["s","y"]}],
 "title": {"text": "BZT(x=0.1)\u00a0\u00a0(d)", "dx": 30, "dy": 29.7},
 "encoding": {"x": {"field": "x", "type": "quantitative", "scale": {"domain": [3.75, 7.0], "nice": false, "zero": false}, "axis": null}},
 "layer": [
  {"mark": {"type": "line", "strokeWidth": 1, "clip": true},
   "encoding": {"y": {"field": "y", "type": "quantitative", "scale": {"domain": [-906, 27531], "nice": false, "zero": false},
    "axis": {"orient": "left", "title": "ε''", "titleX": -46, "titleBaseline": "middle", "values": [0,5000,10000,15000,20000,25000], "format": "d", "tickSize": 5, "labelPadding": 9}},
    "stroke": {"field": "s", "type": "nominal", "scale": {"domain": ["RT","50","100","150","200","250","300","350"], "range": ["#000000","#ff0000","#00ff00","#0000ff","#00ffff","#ff00ff","#ffff00","#808000"]}, "legend": null}}},
  {"mark": {"type": "point", "filled": true, "size": 36, "opacity": 1, "clip": true},
   "encoding": {"y": {"field": "y", "type": "quantitative", "scale": {"domain": [-906, 27531], "nice": false, "zero": false},
    "axis": {"orient": "left", "title": null, "values": [2500,7500,12500,17500,22500], "labels": false, "tickSize": 3}},
    "fill": {"field": "s", "type": "nominal", "scale": {"domain": ["RT","50","100","150","200","250","300","350"], "range": ["#000000","#ff0000","#00ff00","#0000ff","#00ffff","#ff00ff","#ffff00","#808000"]}, "legend": null},
    "shape": {"field": "s", "type": "nominal", "scale": {"domain": ["RT","50","100","150","200","250","300","350"], "range": ["square","circle","triangle-up","triangle-down","diamond","triangle-left","triangle-right","circle"]}, "legend": null}}},
  {"transform": [{"filter": "false"}],
   "mark": {"type": "point", "filled": true, "opacity": 1},
   "encoding": {"y": {"field": "y", "type": "quantitative", "scale": {"domain": [-906, 27531], "nice": false, "zero": false}, "axis": null},
    "fill": {"field": "s", "type": "nominal", "scale": {"domain": ["RT","50","100","150","200","250","300","350"], "range": ["#000000","#ff0000","#00ff00","#0000ff","#00ffff","#ff00ff","#ffff00","#808000"]}, "legend": {"title": null, "legendX": 277, "legendY": 6, "rowPadding": 7.9, "labelExpr": "datum.label=='RT'?'RT':datum.label+'°C'"}},
    "stroke": {"field": "s", "type": "nominal", "scale": {"domain": ["RT","50","100","150","200","250","300","350"], "range": ["#000000","#ff0000","#00ff00","#0000ff","#00ffff","#ff00ff","#ffff00","#808000"]}, "legend": {"title": null, "legendX": 277, "legendY": 6, "rowPadding": 7.9, "labelExpr": "datum.label=='RT'?'RT':datum.label+'°C'"}},
    "shape": {"field": "s", "type": "nominal", "scale": {"domain": ["RT","50","100","150","200","250","300","350"], "range": ["M-3.2,0H3.2M-0.5,-0.5H0.5V0.5H-0.5Z","M-3.2,0H3.2M-0.55,0A0.55,0.55,0,1,1,0.55,0A0.55,0.55,0,1,1,-0.55,0Z","M-3.2,0H3.2M0,-0.6L0.62,0.45H-0.62Z","M-3.2,0H3.2M0,0.6L0.62,-0.45H-0.62Z","M-3.2,0H3.2M0,-0.65L0.55,0L0,0.65L-0.55,0Z","M-3.2,0H3.2M-0.6,0L0.45,-0.62V0.62Z","M-3.2,0H3.2M0.6,0L-0.45,-0.62V0.62Z","M-3.2,0H3.2M-0.55,0A0.55,0.55,0,1,1,0.55,0A0.55,0.55,0,1,1,-0.55,0Z"]}, "legend": {"title": null, "legendX": 277, "legendY": 6, "rowPadding": 7.9, "labelExpr": "datum.label=='RT'?'RT':datum.label+'°C'"}}}}
 ],
 "resolve": {"scale": {"fill": "independent", "stroke": "independent", "shape": "independent"}, "axis": {"y": "independent"}}
},
{
 "width": 354, "height": 267,
 "data": {"name": "e"},
 "transform": [{"fold": ["RT","50","100","150","200","250","300","350"], "as": ["s","y"]}],
 "title": {"text": "BZT(x=0.15)\u00a0\u00a0(e)", "dx": 16, "dy": 33.3},
 "encoding": {"x": {"field": "x", "type": "quantitative", "scale": {"domain": [3.75, 7.0], "nice": false, "zero": false},
   "axis": {"orient": "bottom", "title": "log(ω)", "values": [4,4.5,5,5.5,6,6.5,7], "format": ".1f", "tickSize": 5, "labelPadding": 3, "titleFontSize": 13, "titlePadding": 12}}},
 "layer": [
  {"mark": {"type": "line", "strokeWidth": 1, "clip": true},
   "encoding": {"y": {"field": "y", "type": "quantitative", "scale": {"domain": [-96, 15000], "nice": false, "zero": false},
    "axis": {"orient": "left", "title": "ε'", "titleX": -35, "titleBaseline": "middle", "values": [0,3000,6000,9000,12000,15000], "format": "d", "tickSize": 5, "labelPadding": 7}},
    "stroke": {"field": "s", "type": "nominal", "scale": {"domain": ["RT","50","100","150","200","250","300","350"], "range": ["#000000","#ff0000","#00ff00","#0000ff","#00ffff","#ff00ff","#ffff00","#808000"]}, "legend": null}}},
  {"mark": {"type": "point", "filled": true, "size": 36, "opacity": 1, "clip": true},
   "encoding": {"y": {"field": "y", "type": "quantitative", "scale": {"domain": [-96, 15000], "nice": false, "zero": false},
    "axis": {"orient": "left", "title": null, "values": [1500,4500,7500,10500,13500], "labels": false, "tickSize": 3}},
    "x": {"field": "x", "type": "quantitative", "scale": {"domain": [3.75, 7.0], "nice": false, "zero": false},
    "axis": {"orient": "bottom", "title": null, "values": [3.75,4.25,4.75,5.25,5.75,6.25,6.75], "labels": false, "tickSize": 3}},
    "fill": {"field": "s", "type": "nominal", "scale": {"domain": ["RT","50","100","150","200","250","300","350"], "range": ["#000000","#ff0000","#00ff00","#0000ff","#00ffff","#ff00ff","#ffff00","#808000"]}, "legend": null},
    "shape": {"field": "s", "type": "nominal", "scale": {"domain": ["RT","50","100","150","200","250","300","350"], "range": ["square","diamond","triangle-up","triangle-down","diamond","triangle-left","triangle-right","M-1,0L-0.5,-0.87H0.5L1,0L0.5,0.87H-0.5Z"]}, "legend": null}}},
  {"transform": [{"filter": "false"}],
   "mark": {"type": "point", "filled": true, "opacity": 1},
   "encoding": {"y": {"field": "y", "type": "quantitative", "scale": {"domain": [-96, 15000], "nice": false, "zero": false}, "axis": null},
    "x": {"field": "x", "type": "quantitative", "scale": {"domain": [3.75, 7.0], "nice": false, "zero": false}, "axis": null},
    "fill": {"field": "s", "type": "nominal", "scale": {"domain": ["RT","50","100","150","200","250","300","350"], "range": ["#000000","#ff0000","#00ff00","#0000ff","#00ffff","#ff00ff","#ffff00","#808000"]}, "legend": {"title": null, "legendX": 287.8, "legendY": 3, "rowPadding": 5.6, "labelExpr": "datum.label=='RT'?'RT':datum.label+'°C'"}},
    "stroke": {"field": "s", "type": "nominal", "scale": {"domain": ["RT","50","100","150","200","250","300","350"], "range": ["#000000","#ff0000","#00ff00","#0000ff","#00ffff","#ff00ff","#ffff00","#808000"]}, "legend": {"title": null, "legendX": 287.8, "legendY": 3, "rowPadding": 5.6, "labelExpr": "datum.label=='RT'?'RT':datum.label+'°C'"}},
    "shape": {"field": "s", "type": "nominal", "scale": {"domain": ["RT","50","100","150","200","250","300","350"], "range": ["M-3.2,0H3.2M-0.5,-0.5H0.5V0.5H-0.5Z","M-3.2,0H3.2M0,-0.65L0.55,0L0,0.65L-0.55,0Z","M-3.2,0H3.2M0,-0.6L0.62,0.45H-0.62Z","M-3.2,0H3.2M0,0.6L0.62,-0.45H-0.62Z","M-3.2,0H3.2M0,-0.65L0.55,0L0,0.65L-0.55,0Z","M-3.2,0H3.2M-0.6,0L0.45,-0.62V0.62Z","M-3.2,0H3.2M0.6,0L-0.45,-0.62V0.62Z","M-3.2,0H3.2M-0.6,0L-0.3,-0.52H0.3L0.6,0L0.3,0.52H-0.3Z"]}, "legend": {"title": null, "legendX": 287.8, "legendY": 3, "rowPadding": 5.6, "labelExpr": "datum.label=='RT'?'RT':datum.label+'°C'"}}}}
 ],
 "resolve": {"scale": {"fill": "independent", "stroke": "independent", "shape": "independent"}, "axis": {"y": "independent", "x": "independent"}}
},
{
 "width": 351, "height": 267,
 "data": {"name": "f"},
 "transform": [{"fold": ["RT","50","100","150","200","250","300","350"], "as": ["s","y"]}],
 "title": {"text": "BZT(x=0.15)\u00a0\u00a0\u00a0(f)", "dx": 37, "dy": 31.7},
 "encoding": {"x": {"field": "x", "type": "quantitative", "scale": {"domain": [3.75, 7.0], "nice": false, "zero": false},
   "axis": {"orient": "bottom", "title": "log(ω)", "values": [4,4.5,5,5.5,6,6.5,7], "format": ".1f", "tickSize": 5, "labelPadding": 3, "titleFontSize": 13, "titlePadding": 12}}},
 "layer": [
  {"mark": {"type": "line", "strokeWidth": 1, "clip": true},
   "encoding": {"y": {"field": "y", "type": "quantitative", "scale": {"domain": [-2167, 55700], "nice": false, "zero": false},
    "axis": {"orient": "left", "title": "ε''", "titleX": -36, "titleBaseline": "middle", "values": [0,10000,20000,30000,40000,50000], "format": "d", "tickSize": 5, "labelPadding": 5}},
    "stroke": {"field": "s", "type": "nominal", "scale": {"domain": ["RT","50","100","150","200","250","300","350"], "range": ["#000000","#ff0000","#00ff00","#0000ff","#00ffff","#ff00ff","#ffff00","#808000"]}, "legend": null}}},
  {"mark": {"type": "point", "filled": true, "size": 36, "opacity": 1, "clip": true},
   "encoding": {"y": {"field": "y", "type": "quantitative", "scale": {"domain": [-2167, 55700], "nice": false, "zero": false},
    "axis": {"orient": "left", "title": null, "values": [5000,15000,25000,35000,45000], "labels": false, "tickSize": 3}},
    "x": {"field": "x", "type": "quantitative", "scale": {"domain": [3.75, 7.0], "nice": false, "zero": false},
    "axis": {"orient": "bottom", "title": null, "values": [3.75,4.25,4.75,5.25,5.75,6.25,6.75], "labels": false, "tickSize": 3}},
    "fill": {"field": "s", "type": "nominal", "scale": {"domain": ["RT","50","100","150","200","250","300","350"], "range": ["#000000","#ff0000","#00ff00","#0000ff","#00ffff","#ff00ff","#ffff00","#808000"]}, "legend": null},
    "shape": {"field": "s", "type": "nominal", "scale": {"domain": ["RT","50","100","150","200","250","300","350"], "range": ["circle","diamond","triangle-up","triangle-down","diamond","triangle-left","triangle-right","M-1,0L-0.5,-0.87H0.5L1,0L0.5,0.87H-0.5Z"]}, "legend": null}}},
  {"transform": [{"filter": "false"}],
   "mark": {"type": "point", "filled": true, "opacity": 1},
   "encoding": {"y": {"field": "y", "type": "quantitative", "scale": {"domain": [-2167, 55700], "nice": false, "zero": false}, "axis": null},
    "x": {"field": "x", "type": "quantitative", "scale": {"domain": [3.75, 7.0], "nice": false, "zero": false}, "axis": null},
    "fill": {"field": "s", "type": "nominal", "scale": {"domain": ["RT","50","100","150","200","250","300","350"], "range": ["#000000","#ff0000","#00ff00","#0000ff","#00ffff","#ff00ff","#ffff00","#808000"]}, "legend": {"title": null, "legendX": 285.6, "legendY": 9, "rowPadding": 5.1, "labelExpr": "datum.label=='RT'?'RT':datum.label+'°C'"}},
    "stroke": {"field": "s", "type": "nominal", "scale": {"domain": ["RT","50","100","150","200","250","300","350"], "range": ["#000000","#ff0000","#00ff00","#0000ff","#00ffff","#ff00ff","#ffff00","#808000"]}, "legend": {"title": null, "legendX": 285.6, "legendY": 9, "rowPadding": 5.1, "labelExpr": "datum.label=='RT'?'RT':datum.label+'°C'"}},
    "shape": {"field": "s", "type": "nominal", "scale": {"domain": ["RT","50","100","150","200","250","300","350"], "range": ["M-3.2,0H3.2M-0.55,0A0.55,0.55,0,1,1,0.55,0A0.55,0.55,0,1,1,-0.55,0Z","M-3.2,0H3.2M0,-0.65L0.55,0L0,0.65L-0.55,0Z","M-3.2,0H3.2M0,-0.6L0.62,0.45H-0.62Z","M-3.2,0H3.2M0,0.6L0.62,-0.45H-0.62Z","M-3.2,0H3.2M0,-0.65L0.55,0L0,0.65L-0.55,0Z","M-3.2,0H3.2M-0.6,0L0.45,-0.62V0.62Z","M-3.2,0H3.2M0.6,0L-0.45,-0.62V0.62Z","M-3.2,0H3.2M-0.6,0L-0.3,-0.52H0.3L0.6,0L0.3,0.52H-0.3Z"]}, "legend": {"title": null, "legendX": 285.6, "legendY": 9, "rowPadding": 5.1, "labelExpr": "datum.label=='RT'?'RT':datum.label+'°C'"}}}}
 ],
 "resolve": {"scale": {"fill": "independent", "stroke": "independent", "shape": "independent"}, "axis": {"y": "independent", "x": "independent"}}
}
]
}
